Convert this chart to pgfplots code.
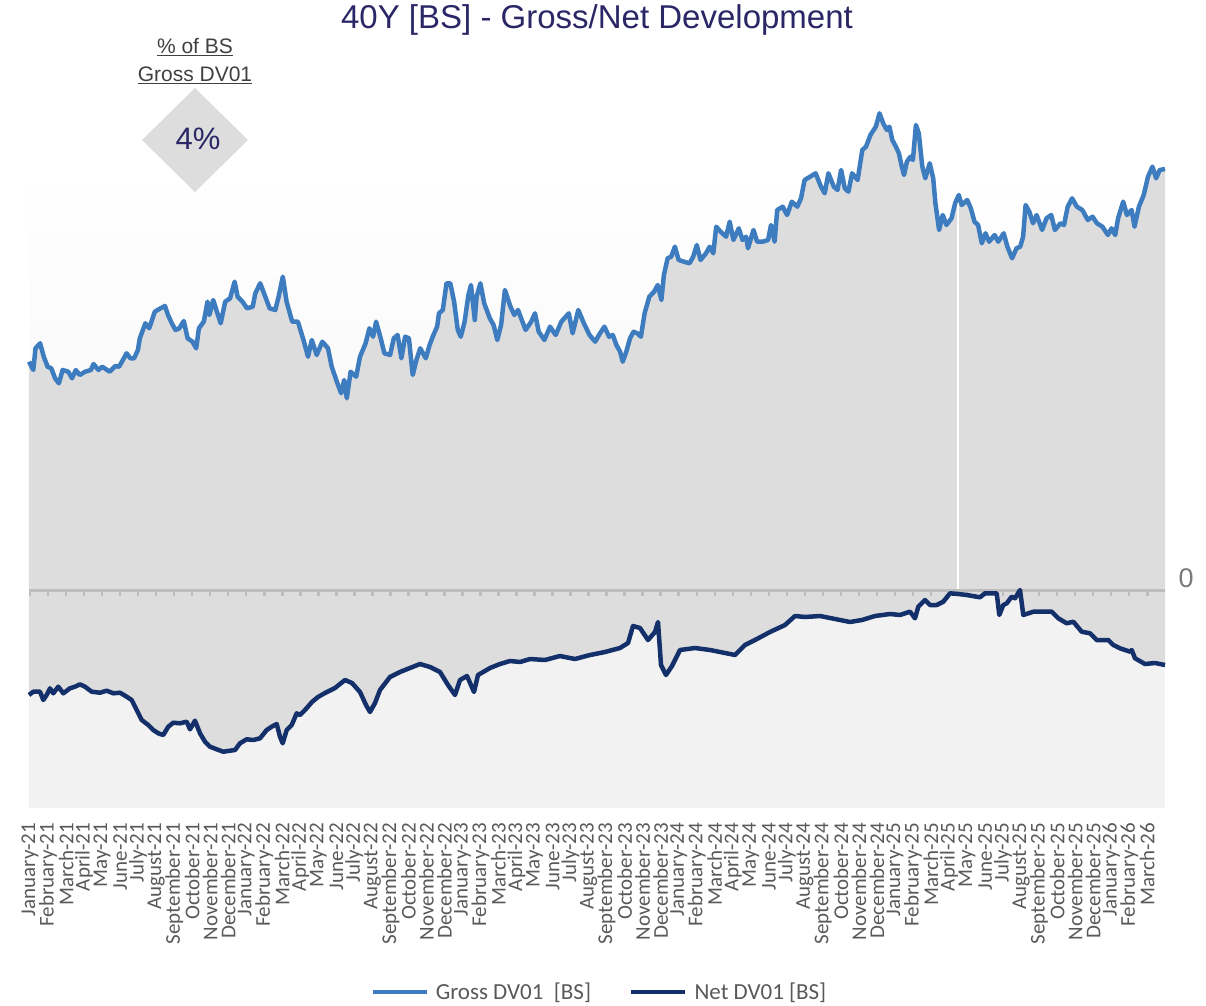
\documentclass[border=0pt]{standalone}
\usepackage{pgfplots}
\pgfplotsset{compat=1.18}
\usepackage{pgfplotstable}
\usepackage{fontspec}
\setmainfont{Carlito}
\newfontfamily\arialfont{Liberation Sans}
\definecolor{TitleNavy}{HTML}{2B2766}
\definecolor{LabelGray}{HTML}{595959}
\definecolor{AnnotGray}{HTML}{404040}
\definecolor{GrossBlue}{HTML}{3E7CC0}
\definecolor{NetNavy}{HTML}{14306A}
\definecolor{AreaGray}{HTML}{DDDDDD}
\definecolor{LowGray}{HTML}{F2F2F2}
\definecolor{ZeroGray}{HTML}{BDBDBD}

% x = horizontal position (Jan-21 at 30, one month = 18.02), y = DV01 in chart units
\pgfplotstableread{
x y
29 228.3
33.3 220
35.5 241.7
40.1 246.7
43.8 233.3
47.6 223.3
51.3 221.7
55.1 211.7
58.9 206.7
62.6 220
68.3 218.3
72.0 211.7
75.8 220
79.6 215
85.2 218.3
90.9 220
93.5 226
98.4 220
102.2 223.3
109.7 218.3
115.3 224
119.1 223.3
122.9 230
126.6 236.7
130.4 231.7
134.1 231.7
137.9 240
139.8 251.7
145.4 266.7
149.2 261.7
154.8 278.3
160.5 281.7
165.0 284
168.0 275
171.8 266.7
175.5 260
179.3 261.7
183.8 269
187.6 251.7
192.5 248.3
196.2 241.7
198.9 261.7
203.8 268.3
207.5 288.3
209.4 275
213.2 290
216.9 278.3
220.7 266.7
225.2 288.3
230.1 291.7
234.6 308.3
237.6 293.3
242.5 288.3
247.1 281.7
252.7 283.3
255.3 296.7
260.2 306.7
265.9 291.7
269.6 281.7
275.3 280
279.0 295
282.8 313.3
286.6 288.3
292.2 268.3
297.9 268.3
303.5 250
308.0 233.3
311.8 250
316.7 235
322.3 248.3
328.0 241.7
331.7 223.3
337.4 206.7
341.1 196.7
344.2 210
346.8 191.7
350.6 218.3
356.2 213.3
360.0 233.3
365.6 246.7
369.4 261.7
373.1 253.3
376.1 268.3
380.7 251.7
384.4 236.7
390.1 235
393.8 251.7
397.6 255
401.4 231.7
405.1 253.3
408.9 251.7
412.7 215
416.4 230
420.2 241.7
425.8 231.7
429.6 245
433.4 255
437.1 263.3
439.0 276.7
442.8 280
446.5 306.7
450.3 306.7
454.1 288.3
457.8 260
460.8 253.3
464.6 268.3
468.4 295
471.0 305
474.8 270
476.6 293.3
480.4 306.7
484.2 286.7
489.8 271.7
493.6 265
497.3 250
501.1 265
504.9 300
510.5 283.3
514.3 275
518.0 280
525.6 260
531.2 268.3
535.0 276.7
538.7 258.3
544.4 250
550.0 263.3
555.7 255
561.3 268.3
568.8 276.7
572.6 256.7
578.3 280
583.9 266.7
589.5 255
595.2 248.3
600.0 256.7
604.4 263.3
609.1 253.3
612.8 255
616.4 245
620.1 238.3
622.7 228.3
626.3 238.3
630.0 251.7
633.6 258.3
637.3 256.7
640.9 253.3
644.6 276.7
649.3 293.3
654.1 298.3
657.7 305
661.4 290
663.9 315
667.6 331.7
671.2 333.3
674.9 343.3
678.6 330
684.0 328.3
689.5 326.7
693.2 333.3
696.8 345
700.5 330
706.0 336.7
709.6 343.3
713.3 336.7
716.2 363.3
720.6 358.3
726.1 353.3
729.7 368.3
733.4 350
738.8 361.7
742.5 350
746.1 353.3
748.0 341.7
753.5 360
757.1 348.3
762.6 348.3
768.1 350
771.0 365
774.6 348.3
777.2 380
782.7 383.3
787.1 375
791.8 388.3
797.3 383.3
801.0 391.7
804.6 410
810.1 413.3
815.6 416.7
821.0 403.3
824.7 396.7
828.4 416.7
833.8 403.3
837.5 400
841.1 420
844.8 401.7
848.4 398.3
852.1 416.7
857.6 410
862.3 440
866.0 443.3
870.4 455
875.8 463.3
879.5 476.7
883.2 466.7
886.8 460
889.4 463.3
892.3 450
895.9 443.3
898.9 436.7
901.4 425
904.0 415
906.9 428.3
910.4 433.3
912.9 430
915.9 465
918.8 456.7
922.3 423.3
925.3 411.7
929.7 426.7
933.2 411.7
935.4 386.7
939.1 360
942.7 375
946.4 365
951.5 371.7
955.1 386.7
958.8 395
961.7 385
967.2 390
970.8 381.7
974.5 368.3
978.1 365
981.8 346.7
985.5 356.7
989.1 348.3
994.6 355
998.2 348.3
1003.7 356.7
1007.4 343.3
1012.1 331.7
1016.5 341.7
1020.2 343.3
1023.1 353.3
1025.6 385
1029.3 378.3
1033.0 366.7
1036.6 375
1042.1 360
1046.5 371.7
1051.2 375
1054.9 360
1060.4 366.7
1064.0 365
1067.7 383.3
1072.1 391.7
1076.8 383.3
1082.3 380
1087.8 370
1092.5 373.3
1096.9 366.7
1102.4 363.3
1107.9 355
1111.5 361.7
1115.2 355
1118.1 371.7
1123.2 388.3
1126.9 375
1131.6 380
1134.5 363.3
1138.9 383.3
1143.7 395
1148.0 413.3
1152.4 423.3
1156.1 411.7
1159.7 420
1165.0 421
}\grosstable

\pgfplotstableread{
x y
29 -105
33.3 -101.7
40 -101.7
43.3 -110
46.7 -105
50 -98.3
53.3 -103.3
58.3 -96.7
63.3 -103.3
70 -98.3
75 -96.7
80 -94.3
85 -96.7
91.7 -101.7
100 -102.7
106.7 -100.7
113.3 -103.3
120 -102.7
126.7 -106.7
131.7 -110
136.7 -120
141.7 -130
148.3 -135
153.3 -140
158.3 -143.3
163.3 -145
168.3 -136.7
173.3 -132.7
180 -133.3
186.7 -131.7
190 -139.3
195 -130.7
200 -143.3
205 -151.7
210 -156.7
216.7 -159.3
223.3 -161.7
230 -160.7
235 -160
240 -153.3
246.7 -149.3
253.3 -150
260 -148.3
266.7 -140
271.7 -136.7
276.7 -134
280 -146.7
282.7 -153.3
286.7 -140
291.7 -135
296.7 -123.3
300 -125
305 -120
312 -112
318 -107
325 -103
335 -98
345 -90
352 -93
360 -102
366 -115
370 -122
375 -113
380 -100
390 -87
400 -82
410 -78
420 -74
430 -77
440 -82
448 -95
455 -105
460 -90
467 -86
474 -102
478 -85
490 -78
500 -74
510 -71
520 -72
530 -69
545 -70
560 -66
575 -69
590 -65
605 -62
620 -58
628 -53
633 -36
640 -38
648 -50
655 -42
658 -32
661 -75
666 -85
672 -76
680 -60
695 -58
710 -60
725 -63
735 -65
745 -55
755 -50
770 -42
785 -35
795 -26
805 -27
820 -26
835 -29
850 -32
862 -30
875 -26
890 -24
900 -25
910 -21.7
915 -28.3
918.3 -16.7
925 -10
930 -15
936.7 -15
943.3 -11.7
950 -3.3
958.3 -4
966.7 -5
980 -7.3
985 -3.3
996.7 -3.3
999.3 -25
1003.3 -15
1006.7 -13.3
1011.7 -6.7
1015 -8.3
1020 0
1023.3 -25
1033.3 -21.7
1051.7 -21.7
1058.3 -28.3
1066.7 -33.3
1073.3 -31.7
1081.7 -41.7
1090 -43.3
1096.7 -50
1108.3 -50
1113.3 -55
1120 -58.3
1130 -61.7
1131.7 -60
1135 -68.3
1145 -74
1155 -73
1165 -75
}\nettable

\begin{document}
\begin{tikzpicture}
\begin{axis}[
  scale only axis,
  width=1136pt, height=648pt,
  xmin=29, xmax=1165, ymin=-218, ymax=430,
  clip=false,
  axis x line=bottom,
  x axis line style={draw=none},
  hide y axis,
  major tick length=0pt,
  xtick={30,48.02,...,1150},
  xticklabels={January-21,February-21,March-21,April-21,May-21,June-21,July-21,August-21,September-21,October-21,November-21,December-21,
    January-22,February-22,March-22,April-22,May-22,June-22,July-22,August-22,September-22,October-22,November-22,December-22,
    January-23,February-23,March-23,April-23,May-23,June-23,July-23,August-23,September-23,October-23,November-23,December-23,
    January-24,February-24,March-24,April-24,May-24,June-24,July-24,August-24,September-24,October-24,November-24,December-24,
    January-25,February-25,March-25,April-25,May-25,June-25,July-25,August-25,September-25,October-25,November-25,December-25,
    January-26,February-26,March-26},
  xticklabel style={rotate=90, anchor=east, inner xsep=15pt, inner ysep=0pt,
    font=\fontsize{21}{21}\selectfont, text=LabelGray},
  legend columns=2,
  legend style={at={(0.502,-0.284)}, anchor=center, draw=none, fill=none,
    font=\fontsize{23}{26}\selectfont, text=LabelGray,
    /tikz/every odd column/.append style={column sep=5pt},
    /tikz/every even column/.append style={column sep=36pt}},
  legend image code/.code={\draw[#1] (0pt,0pt) -- (54pt,0pt);},
]
% plot background
\fill[LowGray] (axis cs:29,-218) rectangle (axis cs:1165,0);
\shade[top color=white, bottom color=LowGray!70] (axis cs:29,430) rectangle (axis cs:1165,0);

\addplot[draw=none, fill=AreaGray, forget plot] table[x=x,y=y] {\grosstable} \closedcycle;
\addplot[draw=none, fill=AreaGray, forget plot] table[x=x,y=y] {\nettable} \closedcycle;
\draw[white, line width=1.5pt] (axis cs:958,1) -- (axis cs:958,392);

% zero line with monthly ticks
\draw[ZeroGray, line width=3pt] (axis cs:29,0) -- (axis cs:1165,0);
\pgfplotsinvokeforeach{0,...,62}{
  \draw[ZeroGray, line width=2.5pt] (axis cs:{30+18.02*#1},0) -- (axis cs:{30+18.02*#1},-6);
}

\addplot[GrossBlue, line width=4.5pt, line join=round] table[x=x,y=y] {\grosstable};
\addlegendentry{Gross DV01\ \ [BS]}
\addplot[NetNavy, line width=4.5pt, line join=round] table[x=x,y=y] {\nettable};
\addlegendentry{Net DV01 [BS]}

% titles and annotations
\node[font=\arialfont\fontsize{33}{36}\selectfont, text=TitleNavy] at (axis cs:597,570) {40Y [BS] - Gross/Net Development};
\node[font=\arialfont\fontsize{21}{24}\selectfont, text=AnnotGray] at (axis cs:195,543) {\underline{\% of BS}};
\node[font=\arialfont\fontsize{21}{24}\selectfont, text=AnnotGray] at (axis cs:195,515) {\underline{Gross DV01}};
\fill[AreaGray] (axis cs:195,502) -- (axis cs:248,450) -- (axis cs:195,398) -- (axis cs:142,450) -- cycle;
\node[font=\arialfont\fontsize{31}{34}\selectfont, text=TitleNavy] at (axis cs:198,451) {4\%};
\node[font=\arialfont\fontsize{27}{30}\selectfont, text=LabelGray!80] at (axis cs:1186,12) {0};

\coordinate (tl) at (axis cs:0,590);
\coordinate (br) at (axis cs:1206,-415);
\end{axis}
\pgfresetboundingbox
\path[use as bounding box] (tl) rectangle (br);
\end{tikzpicture}
\end{document}
